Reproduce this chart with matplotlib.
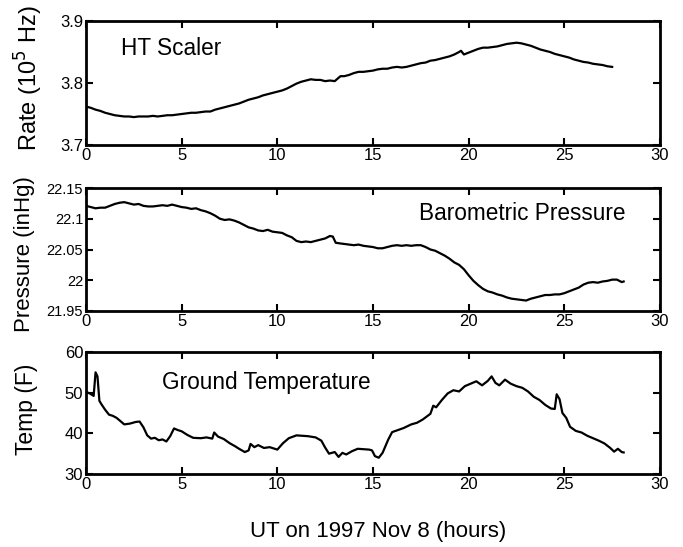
import matplotlib
matplotlib.use("Agg")
import matplotlib.pyplot as plt

plt.rcParams['font.family'] = ['Liberation Sans', 'DejaVu Sans']

# ---- HT Scaler rate (10^5 Hz) ----
t_rate = [0, 0.25, 0.5, 0.75, 1, 1.25, 1.5, 1.75, 2, 2.25, 2.5, 2.75, 3, 3.25, 3.5, 3.75, 4, 4.25, 4.5, 4.75,
          5, 5.25, 5.5, 5.75, 6, 6.25, 6.5, 6.75, 7, 7.25, 7.5, 7.75, 8, 8.25, 8.5, 8.75, 9, 9.25, 9.5, 9.75,
          10, 10.25, 10.5, 10.75, 11, 11.25, 11.5, 11.75, 12, 12.25, 12.5, 12.75, 13, 13.15, 13.3, 13.5, 13.75,
          14, 14.25, 14.5, 14.75, 15, 15.25, 15.5, 15.75, 16, 16.25, 16.5, 16.75, 17, 17.25, 17.5, 17.75,
          18, 18.25, 18.5, 18.75, 19, 19.25, 19.5, 19.6, 19.75, 20, 20.25, 20.5, 20.75, 21, 21.25, 21.5, 21.75,
          22, 22.25, 22.5, 22.75, 23, 23.25, 23.5, 23.75, 24, 24.25, 24.5, 24.75, 25, 25.25, 25.5, 25.75,
          26, 26.25, 26.5, 26.75, 27, 27.25, 27.5]
rate = [3.762, 3.760, 3.757, 3.755, 3.752, 3.750, 3.748, 3.747, 3.746, 3.746, 3.745, 3.746, 3.746, 3.746, 3.747, 3.746, 3.747, 3.748, 3.748, 3.749,
        3.750, 3.751, 3.752, 3.752, 3.753, 3.754, 3.754, 3.757, 3.759, 3.761, 3.763, 3.765, 3.767, 3.770, 3.773, 3.775, 3.777, 3.780, 3.782, 3.784,
        3.786, 3.788, 3.791, 3.795, 3.799, 3.802, 3.804, 3.806, 3.805, 3.805, 3.803, 3.804, 3.803, 3.807, 3.811, 3.811, 3.813,
        3.816, 3.818, 3.818, 3.819, 3.820, 3.822, 3.823, 3.823, 3.825, 3.826, 3.825, 3.826, 3.828, 3.830, 3.832, 3.833,
        3.836, 3.837, 3.839, 3.841, 3.843, 3.846, 3.850, 3.852, 3.846, 3.849, 3.852, 3.855, 3.857, 3.857, 3.858, 3.859, 3.861,
        3.863, 3.864, 3.865, 3.864, 3.862, 3.860, 3.857, 3.854, 3.852, 3.850, 3.847, 3.845, 3.843, 3.841, 3.838, 3.836,
        3.834, 3.833, 3.831, 3.830, 3.829, 3.827, 3.826]

# ---- Barometric pressure (inHg) ----
t_pres = [0, 0.25, 0.5, 0.75, 1, 1.25, 1.5, 1.75, 2, 2.25, 2.5, 2.75, 3, 3.25, 3.5, 3.75, 4, 4.25, 4.5, 4.75,
          5, 5.25, 5.5, 5.75, 6, 6.25, 6.5, 6.75, 7, 7.25, 7.5, 7.75, 8, 8.25, 8.5, 8.75, 9, 9.25, 9.5, 9.75,
          10, 10.25, 10.5, 10.75, 11, 11.25, 11.5, 11.75, 12, 12.25, 12.5, 12.75, 12.9, 13.05, 13.25, 13.5, 13.75,
          14, 14.25, 14.5, 14.75, 15, 15.25, 15.5, 15.75, 16, 16.25, 16.5, 16.75, 17, 17.25, 17.5, 17.75,
          18, 18.25, 18.5, 18.75, 19, 19.25, 19.5, 19.75, 20, 20.25, 20.5, 20.75, 21, 21.25, 21.5, 21.75,
          22, 22.25, 22.5, 22.75, 23, 23.25, 23.5, 23.75, 24, 24.25, 24.5, 24.75, 25, 25.25, 25.5, 25.75,
          26, 26.25, 26.5, 26.75, 27, 27.25, 27.5, 27.75, 28, 28.1]
pressure = [22.121, 22.119, 22.117, 22.118, 22.118, 22.121, 22.124, 22.126, 22.127, 22.125, 22.123, 22.124, 22.121, 22.120, 22.120, 22.121, 22.122, 22.121, 22.123, 22.121,
            22.119, 22.118, 22.116, 22.117, 22.114, 22.112, 22.109, 22.105, 22.100, 22.098, 22.099, 22.097, 22.094, 22.090, 22.086, 22.084, 22.081, 22.080, 22.082, 22.079,
            22.078, 22.077, 22.073, 22.070, 22.064, 22.062, 22.063, 22.062, 22.064, 22.066, 22.068, 22.072, 22.071, 22.061, 22.060, 22.059, 22.058,
            22.057, 22.058, 22.056, 22.055, 22.054, 22.052, 22.052, 22.054, 22.056, 22.057, 22.056, 22.057, 22.056, 22.057, 22.057, 22.054,
            22.050, 22.048, 22.044, 22.040, 22.035, 22.029, 22.025, 22.018, 22.008, 21.999, 21.992, 21.986, 21.982, 21.980, 21.977, 21.975,
            21.972, 21.970, 21.969, 21.968, 21.967, 21.970, 21.972, 21.974, 21.976, 21.976, 21.977, 21.977, 21.979, 21.982, 21.985, 21.988,
            21.993, 21.996, 21.997, 21.996, 21.998, 21.999, 22.001, 22.001, 21.997, 21.998]

# ---- Ground temperature (F) ----
t_temp = [0, 0.2, 0.4, 0.5, 0.6, 0.7, 0.8, 1, 1.2, 1.4, 1.6, 1.8, 2, 2.3, 2.6, 2.8, 3.0, 3.2, 3.4, 3.6, 3.8, 4, 4.2, 4.4, 4.6,
          4.8, 5, 5.3, 5.6, 6, 6.3, 6.6, 6.7, 6.9, 7.2, 7.5, 7.8, 8, 8.3, 8.5, 8.6, 8.8, 9, 9.3, 9.6, 10, 10.3, 10.6,
          11, 11.3, 11.6, 12, 12.3, 12.5, 12.7, 13, 13.2, 13.4, 13.6, 13.9, 14.2, 14.5, 14.8, 14.95, 15.1, 15.3, 15.5,
          15.8, 16, 16.3, 16.6, 17, 17.3, 17.6, 18, 18.15, 18.3, 18.6, 18.9, 19.2, 19.5, 19.8, 20.1, 20.4, 20.7, 21,
          21.2, 21.4, 21.6, 21.9, 22.2, 22.5, 22.8, 23.1, 23.4, 23.7, 24, 24.3, 24.5, 24.6, 24.75, 24.9, 25.1, 25.3, 25.6,
          25.9, 26.2, 26.5, 26.8, 27.1, 27.4, 27.6, 27.8, 28.0, 28.1]
temp = [50.2, 49.8, 49.2, 55.0, 54.0, 48.0, 47.2, 45.8, 44.6, 44.3, 43.8, 43.0, 42.2, 42.4, 42.8, 42.9, 41.5, 39.5, 38.7, 38.9, 38.3, 38.5, 38.0, 39.3, 41.2,
        40.8, 40.5, 39.6, 38.9, 38.8, 39.0, 38.7, 40.2, 39.2, 38.6, 37.6, 36.8, 36.2, 35.4, 35.8, 37.4, 36.6, 37.1, 36.4, 36.6, 36.0, 37.6, 38.8,
        39.5, 39.4, 39.3, 39.0, 38.2, 36.5, 35.0, 35.4, 34.2, 35.2, 34.8, 35.6, 36.2, 36.1, 36.0, 35.8, 34.4, 34.0, 35.2,
        38.5, 40.3, 40.8, 41.3, 42.2, 42.6, 43.4, 44.8, 46.8, 46.4, 48.2, 49.8, 50.6, 50.3, 51.6, 52.2, 52.8, 51.8, 52.9,
        54.0, 52.4, 51.8, 53.2, 52.2, 51.6, 51.2, 50.3, 49.0, 48.2, 47.0, 46.1, 46.0, 49.6, 48.4, 45.0, 43.8, 41.6, 40.6,
        40.2, 39.4, 38.8, 38.2, 37.5, 36.4, 35.5, 36.2, 35.4, 35.3]

fig = plt.figure(figsize=(6.83, 5.47), dpi=100)
W, H = 683.0, 547.0
left, right = 86, 660
panels = [(21, 145), (188, 311), (352, 474)]
axes = []
for top, bot in panels:
    ax = fig.add_axes([left / W, 1 - bot / H, (right - left) / W, (bot - top) / H])
    axes.append(ax)

lw = 1.6
ax1, ax2, ax3 = axes
ax1.plot(t_rate, rate, color='black', lw=lw)
ax2.plot(t_pres, pressure, color='black', lw=lw)
ax3.plot(t_temp, temp, color='black', lw=lw)

ax1.set_ylim(3.7, 3.9)
ax1.set_yticks([3.7, 3.8, 3.9])
ax1.set_yticklabels(['3.7', '3.8', '3.9'])
ax2.set_ylim(21.95, 22.15)
ax2.set_yticks([21.95, 22.0, 22.05, 22.1, 22.15])
ax2.set_yticklabels(['21.95', '22', '22.05', '22.1', '22.15'])
ax3.set_ylim(30, 60)
ax3.set_yticks([30, 40, 50, 60])

for ax in axes:
    ax.set_xlim(0, 30)
    ax.set_xticks([0, 5, 10, 15, 20, 25, 30])
    ax.tick_params(direction='in', top=True, right=True, length=5, width=1.5,
                   labelsize=12, pad=2)
    for s in ax.spines.values():
        s.set_linewidth(2)
ax2.tick_params(axis='y', labelsize=10.5)

def ylab(ax, text, xpix, ypix, top, bot, size):
    ax.set_ylabel(text, fontsize=size, va='center')
    ax.yaxis.set_label_coords((xpix - left) / (right - left), (bot - ypix) / (bot - top))

ylab(ax1, 'Rate (10$^5$ Hz)', 29, 78, 21, 145, 17)
ylab(ax2, 'Pressure (inHg)', 24, 254, 188, 311, 16)
ylab(ax3, 'Temp (F)', 26, 409, 352, 474, 16.5)

ax3.set_xlabel('UT on 1997 Nov 8 (hours)', fontsize=16, va='center')
ax3.xaxis.set_label_coords((378 - left) / (right - left), (474 - 531) / (474 - 352))

ax1.text(1.85, 3.855, 'HT Scaler', fontsize=16.3, va='center', ha='left')
ax2.text(28.2, 22.108, 'Barometric Pressure', fontsize=16.3, va='center', ha='right')
ax3.text(3.95, 52.6, 'Ground Temperature', fontsize=16.3, va='center', ha='left')

fig.savefig('out.png', dpi=100)
